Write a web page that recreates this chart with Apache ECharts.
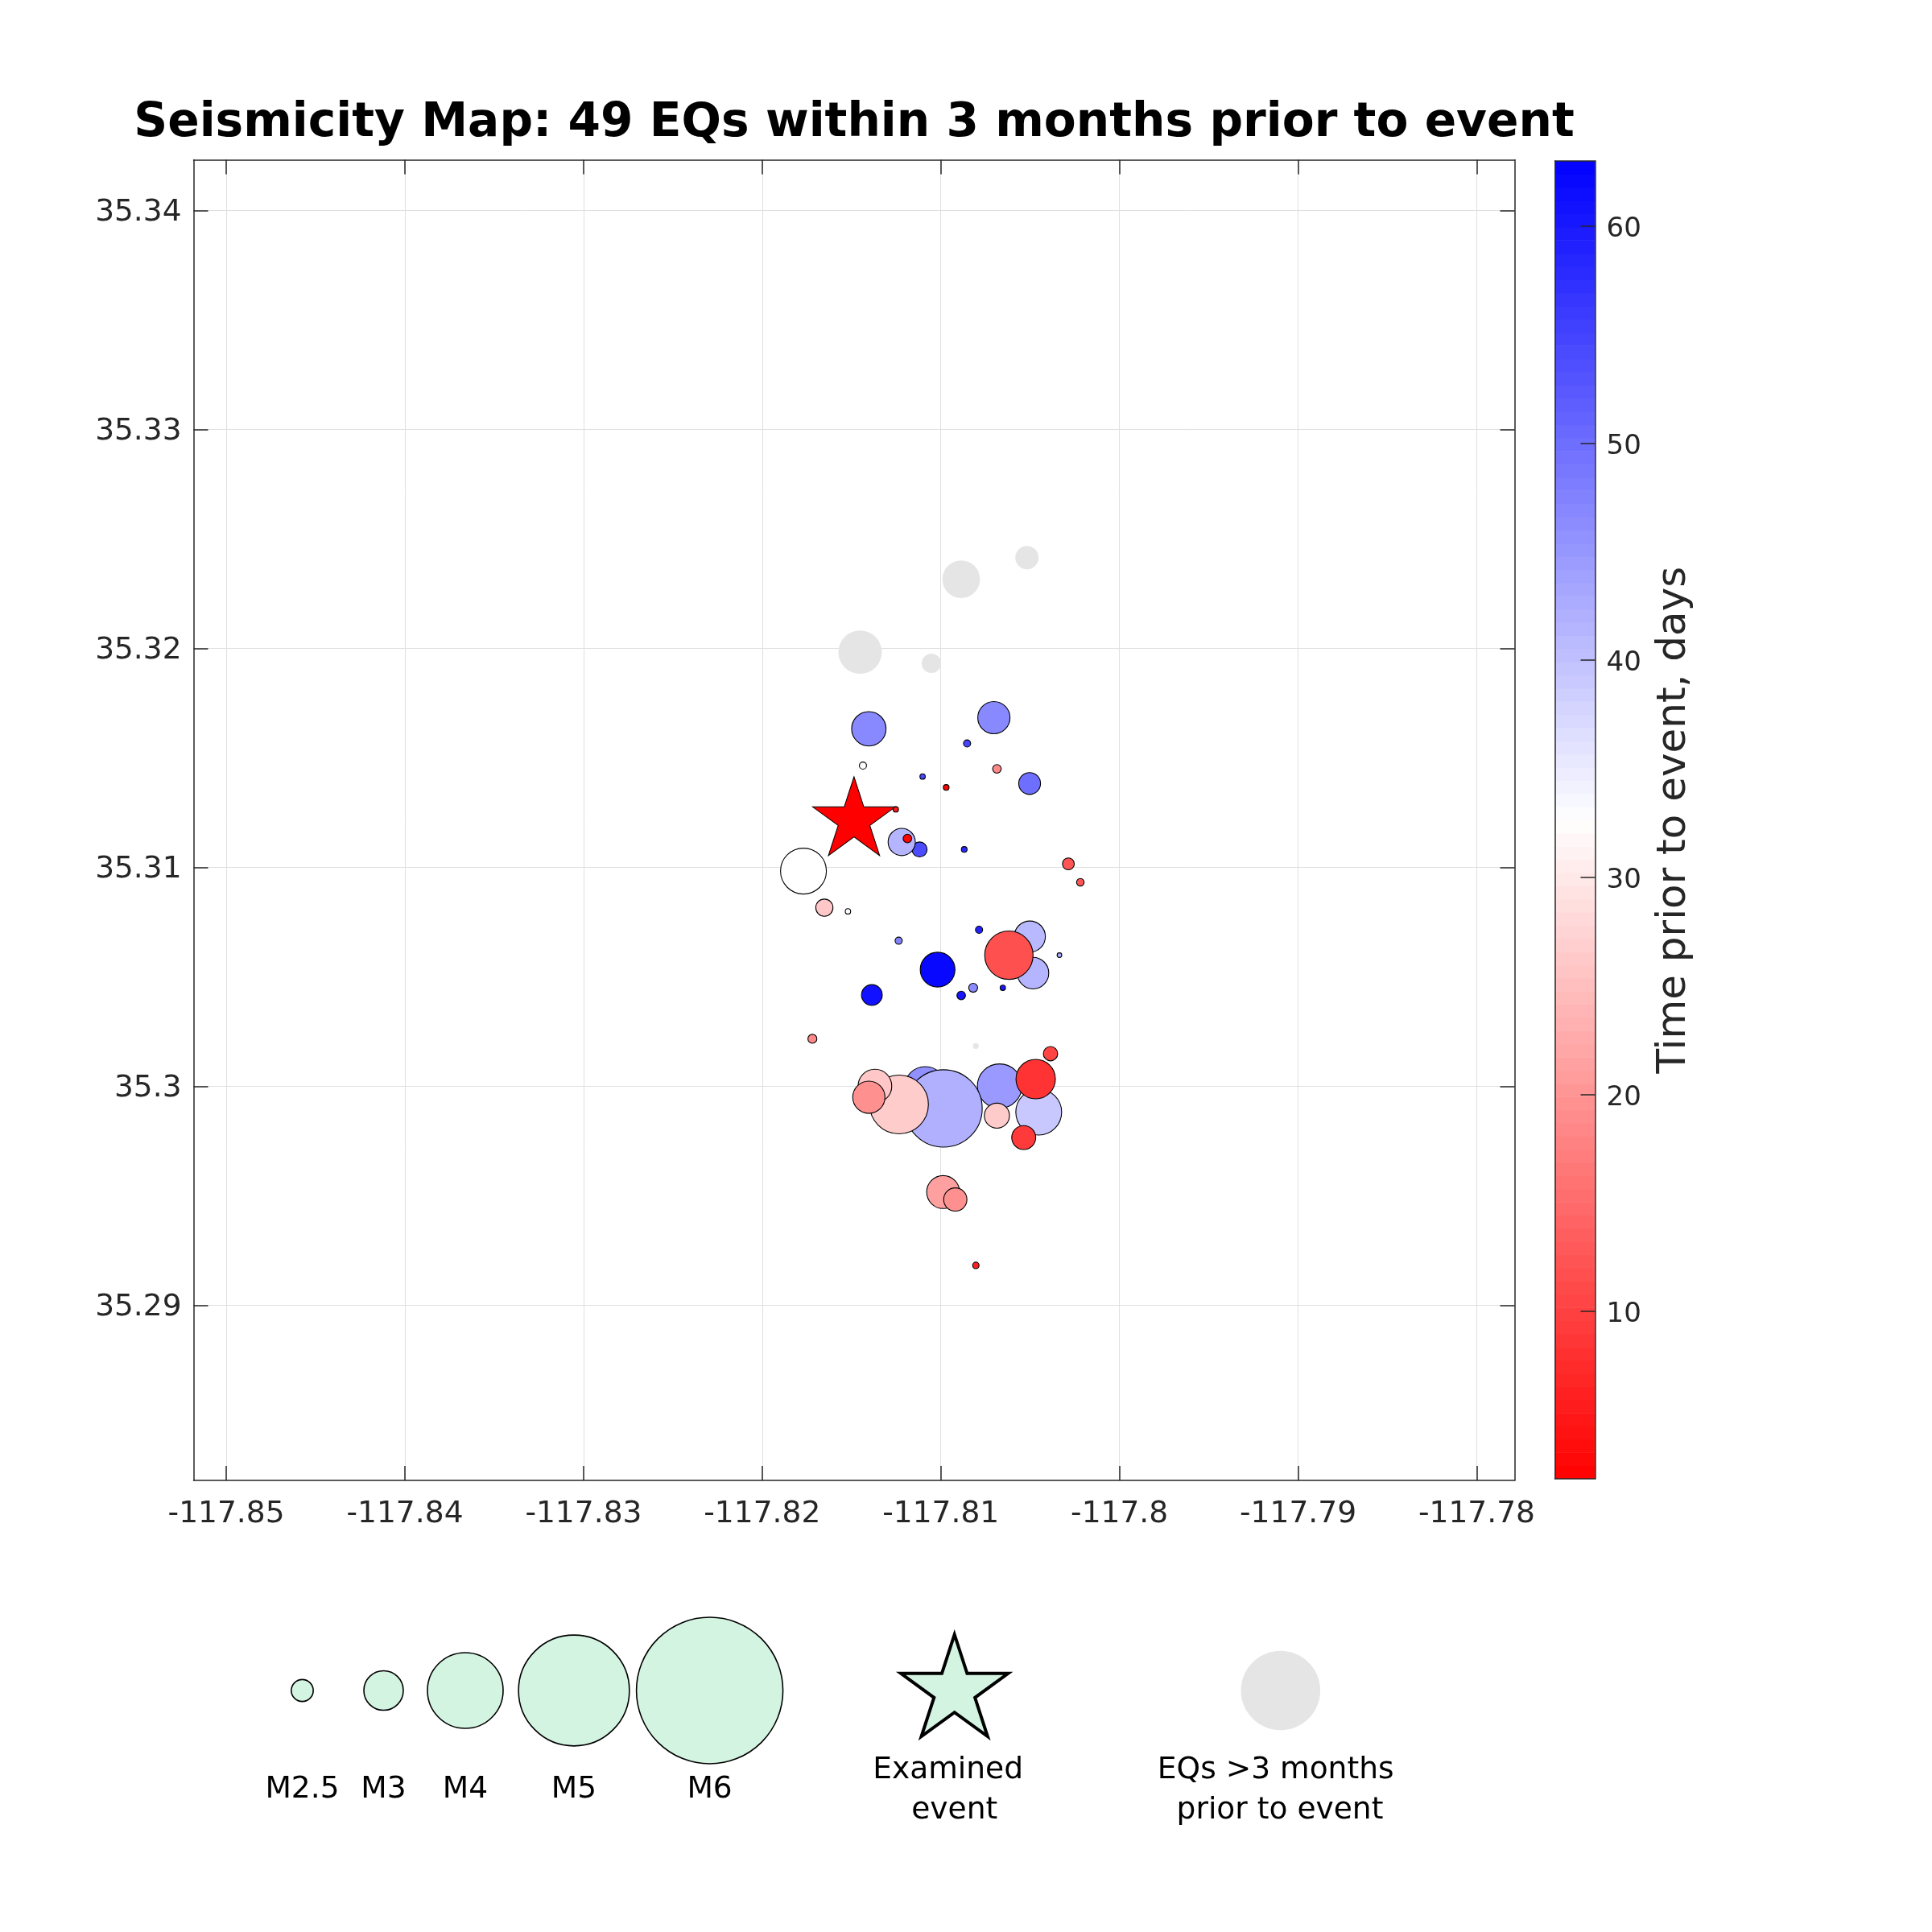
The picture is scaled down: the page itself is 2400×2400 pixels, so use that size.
<!DOCTYPE html>
<html><head><meta charset="utf-8">
<script src="https://cdn.jsdelivr.net/npm/echarts@6/dist/echarts.min.js"></script>
<style>html,body{margin:0;padding:0;background:#fff}#c{width:2400px;height:2400px}</style>
</head><body><div id="c"></div>
<script>
const titleText = 'Seismicity Map: 49 EQs within 3 months prior to event';
const cbarTitle = 'Time prior to event, days';
const xTicks = [-117.85,-117.84,-117.83,-117.82,-117.81,-117.8,-117.79,-117.78];
const yTicks = [35.29,35.3,35.31,35.32,35.33,35.34];
const cbarTicks = [10,20,30,40,50,60];
const lons = [-117.81403,-117.80703,-117.80853,-117.81436,-117.80686,-117.80503,-117.81102,-117.80970,-117.81252,-117.81219,-117.81187,-117.81119,-117.80869,-117.80286,-117.80219,-117.81769,-117.81652,-117.81520,-117.80502,-117.80484,-117.80619,-117.80786,-117.81236,-117.80336,-117.81018,-117.81386,-117.80886,-117.80819,-117.80653,-117.81719,-117.80386,-117.80469,-117.80671,-117.81087,-117.80985,-117.81234,-117.81369,-117.81403,-117.80686,-117.80452,-117.80536,-117.80987,-117.80919,-117.80804];
const lats = [35.31633,35.31684,35.31566,35.31465,35.31450,35.31383,35.31415,35.31365,35.31265,35.31116,35.31132,35.31082,35.31082,35.31016,35.30932,35.30983,35.30816,35.30799,35.30684,35.30517,35.30599,35.30715,35.30665,35.30599,35.30533,35.30417,35.30415,35.30450,35.30450,35.30217,35.30149,35.30033,35.30001,35.29994,35.29899,35.29917,35.30001,35.29950,35.29866,35.29882,35.29766,35.29517,35.29483,35.29182];
const mags = [2.86,2.80,2.10,2.10,2.14,2.51,2.05,2.06,2.05,2.66,2.14,2.32,2.06,2.23,2.11,3.18,2.38,2.05,2.77,2.78,3.25,2.10,2.10,2.03,2.87,2.48,2.14,2.15,2.05,2.15,2.30,3.00,3.14,3.07,4.06,3.54,2.84,2.80,2.60,3.18,2.57,2.82,2.55,2.08];
const days = [46.8,46.7,54.9,33,18.5,49.8,54.5,2.5,5.3,41.5,2.5,54,58,12.4,12.4,32.6,26,33,41,41.4,11.8,59,47.5,42.8,62,61,60.5,46.5,60,18.5,10.4,8.4,44.8,45.8,42,26.6,26,19.4,26.3,39.2,9.2,21.3,19.4,6.1];
const oldLons = [-117.80518,-117.80886,-117.81452,-117.81053,-117.80804];
const oldLats = [35.32415,35.32316,35.31983,35.31932,35.30184];
const oldMags = [2.55,2.95,3.11,2.44,2.06];
const eventLon = -117.81486, eventLat = 35.31212;
const legendMags = ['M2.5','M3','M4','M5','M6'];

const INK = '#262626', FONT = 'DejaVu Sans';
const CMIN = 2.29, CMAX = 62.99, LEVELS = 100;
const magToSize = m => (m - 1.9) * 44.5;
const idx = days.map((_, i) => i).sort((a, b) => days[b] - days[a]);
const quakeData = idx.map(i => [lons[i], lats[i], mags[i], days[i]]);
const oldData = oldLons.map((v, i) => [v, oldLats[i], oldMags[i]]);
const cbarData = [];
for (let i = 0; i < LEVELS; i++) {
  const lo = CMIN + (CMAX - CMIN) * i / LEVELS, hi = CMIN + (CMAX - CMIN) * (i + 1) / LEVELS;
  cbarData.push([lo, hi, 0, (lo + hi) / 2]);
}
const STAR = 'path://M0 -100L22.45 -30.9L95.1 -30.9L36.3 11.8L58.8 80.9L0 38.2L-58.8 80.9L-36.3 11.8L-95.1 -30.9L-22.45 -30.9Z';
function starPts(cx, cy, R) {
  const p = [];
  for (let k = 0; k < 10; k++) {
    const r = k % 2 ? R * 0.382 : R, a = -Math.PI / 2 + k * Math.PI / 5;
    p.push([cx + r * Math.cos(a), cy + r * Math.sin(a)]);
  }
  return p;
}
const tickLine = {lineStyle: {color: INK, width: 1.5}};
const line = {show: true, onZero: false, lineStyle: {color: INK, width: 1.5}};
const lab = {color: INK, fontFamily: FONT};
const split = {show: true, lineStyle: {color: '#e0e0e0', width: 1}};
const XR = {min: -117.85183, max: -117.77788};
const YR = {min: 35.282, max: 35.34232};
const fmt = v => String(v);
const legendCx = [375.5, 476.5, 578, 713, 881.6];
const legendD = [27.3, 49, 94, 137.7, 182];
const txt = (t, x, y) => ({type: 'text', x, y, style: {text: t, fill: '#000', font: '37.6px "DejaVu Sans"', textAlign: 'center', textVerticalAlign: 'middle'}});
const graphic = [];
legendMags.forEach((m, i) => {
  graphic.push({type: 'circle', shape: {cx: legendCx[i], cy: 2100, r: legendD[i] / 2}, style: {fill: '#d4f4e2', stroke: '#000', lineWidth: 1.6}});
  graphic.push(txt(m, legendCx[i], 2223));
});
graphic.push({type: 'polygon', shape: {points: starPts(1185.7, 2100.5, 70)}, style: {fill: '#d4f4e2', stroke: '#000', lineWidth: 4}});
graphic.push({type: 'circle', shape: {cx: 1590.8, cy: 2100, r: 49.3}, style: {fill: '#e5e5e5'}});
graphic.push(txt('Examined', 1177.6, 2199), txt('event', 1185.7, 2249), txt('EQs >3 months', 1584.7, 2199), txt('prior to event', 1590, 2249));

const chart = echarts.init(document.getElementById('c'), null, {renderer: 'canvas', width: 2400, height: 2400});
chart.setOption({
  animation: false,
  backgroundColor: '#fff',
  textStyle: {fontFamily: FONT},
  title: {text: titleText, left: 1056, top: 120, textAlign: 'center',
    textStyle: {fontFamily: FONT, fontWeight: 'bold', fontSize: 58.2, color: '#000'}},
  grid: [
    {left: 240.5, top: 198.5, width: 1641, height: 1640.5},
    {left: 1931.5, top: 200, width: 50, height: 1637}
  ],
  xAxis: [
    {type: 'value', gridIndex: 0, position: 'bottom', ...XR, axisLine: line,
      axisTick: {show: true, inside: true, length: 18, customValues: xTicks, ...tickLine},
      axisLabel: {show: true, margin: 23, fontSize: 37.6, customValues: xTicks, formatter: fmt, ...lab}, splitLine: split},
    {type: 'value', gridIndex: 0, position: 'top', ...XR, axisLine: line,
      axisTick: {show: true, inside: true, length: 18, customValues: xTicks, ...tickLine},
      axisLabel: {show: false}, splitLine: {show: false}},
    {type: 'value', gridIndex: 1, position: 'bottom', min: 0, max: 1, z: 6, axisLine: line, axisTick: {show: false}, axisLabel: {show: false}, splitLine: {show: false}},
    {type: 'value', gridIndex: 1, position: 'top', min: 0, max: 1, z: 6, axisLine: line, axisTick: {show: false}, axisLabel: {show: false}, splitLine: {show: false}}
  ],
  yAxis: [
    {type: 'value', gridIndex: 0, position: 'left', ...YR, axisLine: line,
      axisTick: {show: true, inside: true, length: 18, customValues: yTicks, ...tickLine},
      axisLabel: {show: true, margin: 15, fontSize: 37.5, verticalAlign: 'top', lineHeight: 6, customValues: yTicks, formatter: fmt, ...lab}, splitLine: split},
    {type: 'value', gridIndex: 0, position: 'right', ...YR, axisLine: line,
      axisTick: {show: true, inside: true, length: 18, customValues: yTicks, ...tickLine},
      axisLabel: {show: false}, splitLine: {show: false}},
    {type: 'value', gridIndex: 1, position: 'left', min: CMIN, max: CMAX, z: 6, axisLine: line, axisTick: {show: false}, axisLabel: {show: false}, splitLine: {show: false}},
    {type: 'value', gridIndex: 1, position: 'right', min: CMIN, max: CMAX, z: 6, axisLine: line,
      axisTick: {show: true, inside: true, length: 18, customValues: cbarTicks, ...tickLine},
      axisLabel: {show: true, margin: 14, fontSize: 34, verticalAlign: 'top', lineHeight: 9, customValues: cbarTicks, formatter: fmt, ...lab},
      splitLine: {show: false},
      name: cbarTitle, nameLocation: 'middle', nameRotate: 90, nameGap: 74,
      nameTextStyle: {fontSize: 50, color: INK, fontFamily: FONT}}
  ],
  visualMap: {type: 'continuous', show: false, min: CMIN, max: CMAX, dimension: 3, seriesIndex: [2, 3],
    inRange: {color: ['#ff0000', '#ffffff', '#0000ff']}},
  series: [
    {type: 'scatter', xAxisIndex: 0, yAxisIndex: 0, data: oldData, z: 2,
      symbolSize: d => magToSize(d[2]), itemStyle: {color: '#e5e5e5', opacity: 1}, silent: true},
    {type: 'scatter', xAxisIndex: 0, yAxisIndex: 0, z: 3, silent: true,
      data: [[eventLon, eventLat]], symbol: STAR, symbolSize: [103, 98], symbolOffset: [0, -6],
      itemStyle: {color: '#ff0000', borderColor: '#000', borderWidth: 1, opacity: 1}},
    {type: 'scatter', xAxisIndex: 0, yAxisIndex: 0, data: quakeData, z: 4, silent: true,
      symbolSize: d => magToSize(d[2]), itemStyle: {borderColor: '#000', borderWidth: 1.1, opacity: 1}},
    {type: 'custom', xAxisIndex: 2, yAxisIndex: 2, data: cbarData, z: 2, silent: true, clip: true,
      encode: {y: [0, 1], x: 2},
      renderItem: (params, api) => {
        const a = api.coord([0, api.value(1)]), b = api.coord([1, api.value(0)]);
        return {type: 'rect', shape: {x: a[0], y: a[1], width: b[0] - a[0], height: b[1] - a[1] + 0.6},
          style: {fill: api.visual('color')}};
      }}
  ],
  graphic: {elements: graphic}
});
</script></body></html>
